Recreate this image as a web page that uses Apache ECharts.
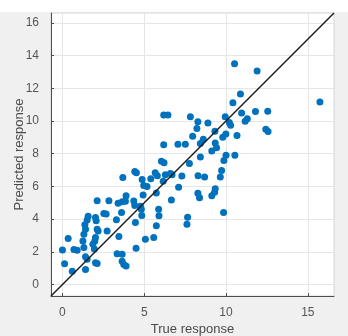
<!DOCTYPE html>
<html><head><meta charset="utf-8">
<script src="https://cdn.jsdelivr.net/npm/echarts@6/dist/echarts.min.js"></script>
<style>html,body{margin:0;padding:0;background:#fff}#c{width:348px;height:336px}</style>
</head><body><div id="c"></div>
<script>
const trueResp = [0.13,0.60,0.00,0.35,0.70,0.90,1.25,1.31,1.41,1.51,1.41,1.31,1.57,1.51,1.37,1.41,1.86,1.95,2.02,1.98,2.02,2.12,2.12,2.18,2.02,2.06,2.12,2.73,2.67,2.53,2.84,3.30,3.45,3.34,3.65,3.65,3.75,3.89,3.61,3.40,3.65,3.85,3.89,3.69,4.42,4.52,4.87,4.97,5.17,4.93,4.36,4.42,4.77,4.82,4.85,4.46,4.50,5.07,5.58,5.74,5.88,5.90,5.74,5.40,5.67,5.80,6.16,6.29,6.60,6.70,6.05,6.21,6.19,7.06,7.51,7.76,7.30,7.10,6.66,7.65,7.61,8.29,8.69,8.28,8.38,9.13,9.34,9.30,9.85,8.43,9.13,9.34,9.42,8.61,8.43,10.00,10.54,9.87,9.73,9.65,9.32,9.99,9.80,10.67,7.96,8.22,8.28,7.82,8.89,9.95,10.20,10.28,10.95,11.30,11.17,11.80,12.55,12.43,12.57,10.42,10.88,10.52,11.90,15.74,6.19,6.45];
const predResp = [1.27,0.82,2.11,2.81,2.15,2.09,2.66,2.26,1.70,1.54,0.92,3.08,4.17,3.94,3.66,3.38,2.46,2.18,2.87,2.66,1.33,1.29,3.38,3.28,4.10,3.90,5.13,3.28,4.31,4.35,5.13,3.96,2.94,1.89,1.85,1.43,1.23,1.13,4.41,4.97,5.06,5.09,5.43,6.54,6.91,6.83,6.42,6.05,5.99,5.48,5.11,4.83,4.78,4.60,4.22,3.80,2.22,2.77,2.87,3.60,4.60,4.20,5.60,6.46,6.83,6.65,6.32,6.71,6.79,6.71,7.53,7.45,8.55,8.57,8.57,7.40,6.63,5.95,5.17,4.12,3.69,6.65,6.58,5.58,5.30,5.43,5.85,5.64,4.41,7.80,8.17,8.66,8.37,8.88,8.62,7.90,7.90,7.59,6.97,6.57,9.37,9.21,9.00,9.11,9.07,9.54,9.95,10.26,9.88,10.26,9.90,9.74,10.48,10.13,9.99,10.58,10.60,9.50,9.35,11.12,11.65,13.50,13.05,11.16,10.36,10.36];
const xTicks = [0,5,10,15];
const yTicks = [0,2,4,6,8,10,12,14,16];
const axisMin = -0.7, axisMax = 16.6;
const refLine = [[axisMin,axisMin],[axisMax,axisMax]];

const pts = trueResp.map((x,i)=>[x,predResp[i]]);
const font = 'Liberation Sans, Arial, sans-serif';
const chart = echarts.init(document.getElementById('c'), null, {renderer:'canvas'});
function axis(name, ticks, isY){
  return {
    type:'value', min:axisMin, max:axisMax, name:name,
    nameLocation:'middle', nameGap: isY?25:27, nameMoveOverlap:false,
    nameTextStyle:{color:'#4a4a4a', fontSize:13, fontFamily:font},
    axisLine:{show:true, onZero:false, lineStyle:{color:'#4d4d4d', width:1}},
    axisTick:{show:true, inside:true, length:3, customValues:ticks, lineStyle:{color:'#4d4d4d'}},
    axisLabel:{customValues:ticks, color:'#555', fontSize:12, fontFamily:font, margin: isY?12:11},
    splitLine:{show:true, lineStyle:{color:'#e6e6e6', width:1}}
  };
}
chart.setOption({
  animation:false,
  backgroundColor:'#ffffff',
  graphic:[{type:'rect', left:0, top:12, shape:{width:348, height:324}, style:{fill:'#f0f0f0'}, z:-10}],
  grid:{left:51, right:14, top:13, bottom:40, containLabel:false, outerBoundsMode:'none', show:true, backgroundColor:'#ffffff', borderColor:'#d6d6d6', borderWidth:1},
  xAxis: axis('True response', xTicks, false),
  yAxis: axis('Predicted response', yTicks, true),
  series:[
    {type:'scatter', data:pts, symbolSize:7, itemStyle:{color:'#0072BD', opacity:1}, z:2},
    {type:'line', data:refLine, symbol:'none', lineStyle:{color:'#1a1a1a', width:1.5}, z:3, silent:true}
  ]
});
</script></body></html>
